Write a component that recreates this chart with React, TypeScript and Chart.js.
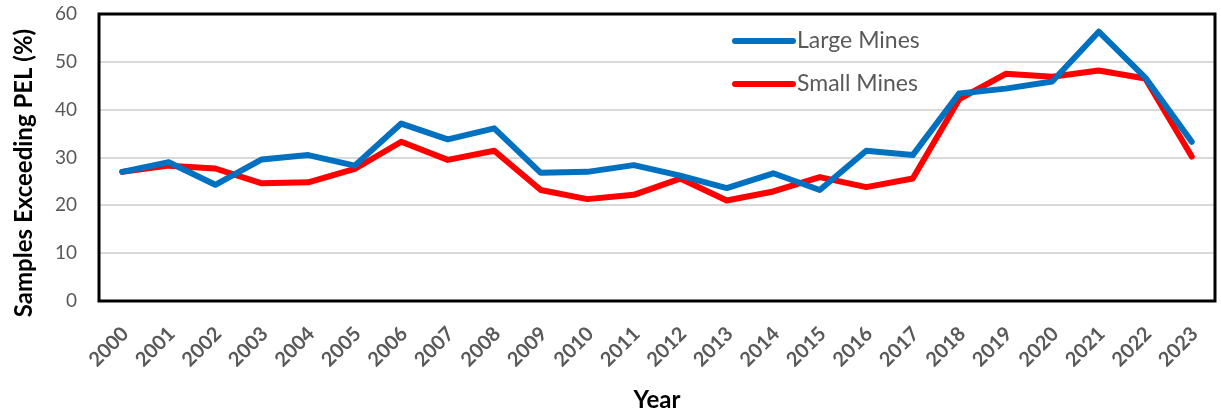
import React, { useEffect, useRef } from "react";
import { Chart, registerables } from "chart.js";

Chart.register(...registerables);

const years = [
  "2000", "2001", "2002", "2003", "2004", "2005", "2006", "2007", "2008", "2009", "2010", "2011",
  "2012", "2013", "2014", "2015", "2016", "2017", "2018", "2019", "2020", "2021", "2022", "2023",
];
const largeMines = [
  27.0, 29.0, 24.3, 29.6, 30.5, 28.3, 37.1, 33.8, 36.1, 26.8, 27.0, 28.4,
  26.2, 23.6, 26.7, 23.2, 31.4, 30.5, 43.4, 44.4, 45.9, 56.3, 46.7, 33.3,
];
const smallMines = [
  27.0, 28.3, 27.7, 24.6, 24.8, 27.6, 33.3, 29.5, 31.4, 23.2, 21.3, 22.2,
  25.6, 21.0, 22.9, 25.9, 23.8, 25.6, 42.2, 47.5, 46.9, 48.2, 46.5, 30.2,
];
const seriesNames = ["Large Mines", "Small Mines"];
const seriesColors = ["#0070C0", "#FF0000"];
const yMin = 0;
const yMax = 60;
const yStep = 10;
const yTitle = "Samples Exceeding PEL (%)";
const xTitle = "Year";

const FONT = "Lato, 'Open Sans', sans-serif";

const framePlugin = {
  id: "frameAndLegend",
  afterDatasetsDraw(chart: any) {
    const { ctx, chartArea } = chart;
    ctx.save();
    ctx.strokeStyle = "#000000";
    ctx.lineWidth = 3;
    ctx.strokeRect(chartArea.left, chartArea.top, chartArea.right - chartArea.left, chartArea.bottom - chartArea.top);
    ctx.restore();
  },
  afterDraw(chart: any) {
    const { ctx } = chart;
    ctx.save();
    const lx0 = 735;
    const lx1 = 793;
    const rows = [41, 84];
    chart.data.datasets.forEach((ds: any, i: number) => {
      const y = rows[i];
      ctx.strokeStyle = ds.borderColor;
      ctx.lineWidth = 6;
      ctx.lineCap = "round";
      ctx.beginPath();
      ctx.moveTo(lx0, y);
      ctx.lineTo(lx1, y);
      ctx.stroke();
      ctx.fillStyle = "#595959";
      ctx.font = `23px ${FONT}`;
      ctx.textAlign = "left";
      ctx.textBaseline = "middle";
      ctx.fillText(ds.label, 797, y);
    });
    ctx.translate(24, 173);
    ctx.rotate(-Math.PI / 2);
    ctx.fillStyle = "#000000";
    ctx.font = `bold 24px ${FONT}`;
    ctx.textAlign = "center";
    ctx.textBaseline = "middle";
    ctx.fillText(yTitle, 0, 0);
    ctx.restore();
  },
};

export default function App() {
  const ref = useRef<HTMLCanvasElement>(null);
  useEffect(() => {
    document.body.style.margin = "0";
    const canvas = ref.current;
    if (!canvas) return;
    const chart = new Chart(canvas, {
      type: "line",
      data: {
        labels: years,
        datasets: [
          {
            label: seriesNames[0],
            data: largeMines,
            borderColor: seriesColors[0],
            backgroundColor: seriesColors[0],
            borderWidth: 6,
            pointRadius: 0,
            tension: 0,
            borderJoinStyle: "round",
            borderCapStyle: "round",
          },
          {
            label: seriesNames[1],
            data: smallMines,
            borderColor: seriesColors[1],
            backgroundColor: seriesColors[1],
            borderWidth: 6,
            pointRadius: 0,
            tension: 0,
            borderJoinStyle: "round",
            borderCapStyle: "round",
          },
        ],
      },
      options: {
        responsive: false,
        animation: false,
        layout: { padding: { top: 14, right: 6, left: 0, bottom: 0 } },
        plugins: {
          legend: { display: false },
          tooltip: { enabled: false },
        },
        scales: {
          x: {
            type: "category",
            offset: true,
            grid: { display: false, drawTicks: false },
            border: { display: false },
            ticks: {
              autoSkip: false,
              minRotation: 45,
              maxRotation: 45,
              padding: 21,
              labelOffset: 3,
              color: "#595959",
              font: { family: FONT, size: 20, weight: "bold" },
            },
            title: {
              display: true,
              text: xTitle,
              color: "#000000",
              font: { family: FONT, size: 24, weight: "bold" },
              padding: { top: 0, bottom: 0 },
            },
            afterFit: (s: any) => {
              s.height = 114;
              s.paddingLeft = 0;
              s.paddingRight = 0;
            },
          },
          y: {
            min: yMin,
            max: yMax,
            grid: { color: "#D9D9D9", lineWidth: 2, drawTicks: false },
            border: { display: false },
            ticks: {
              stepSize: yStep,
              padding: 22,
              color: "#595959",
              font: { family: FONT, size: 19 },
            },
            afterFit: (s: any) => {
              s.width = 99;
              s.paddingTop = 0;
              s.paddingBottom = 0;
            },
          },
        },
      },
      plugins: [framePlugin],
    } as any);
    return () => chart.destroy();
  }, []);
  return <canvas ref={ref} width={1221} height={415} style={{ display: "block" }} />;
}
